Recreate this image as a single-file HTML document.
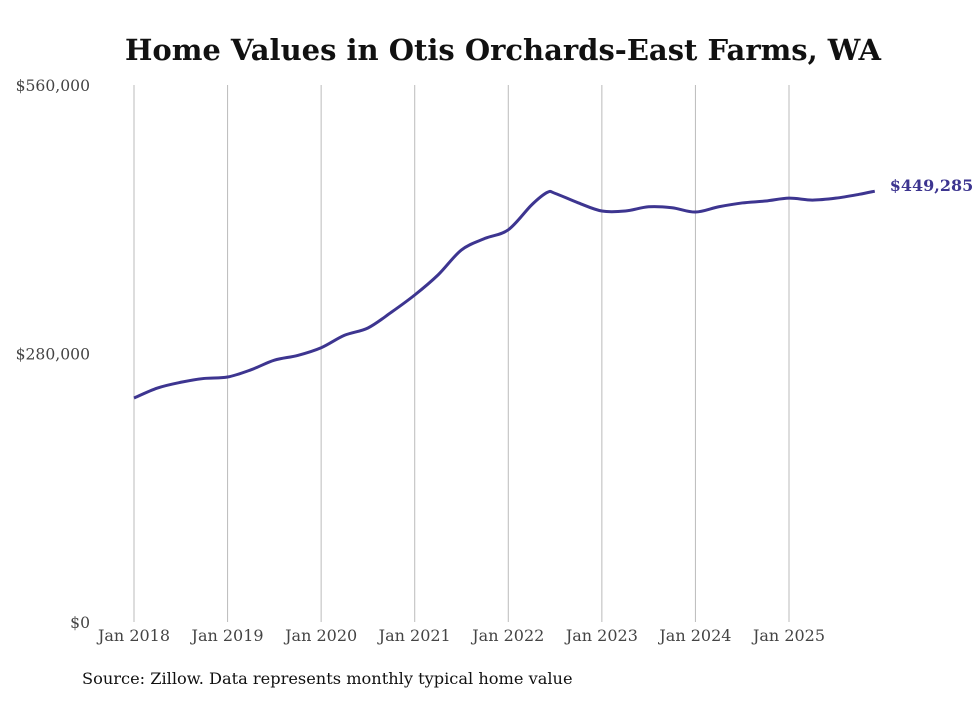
<!DOCTYPE html>
<html><head><meta charset="utf-8"><style>
body{margin:0;background:#fff;width:980px;height:699px;overflow:hidden;font-family:"DejaVu Serif","Liberation Serif",serif;}
</style></head><body>
<svg width="980" height="699" font-family="DejaVu Serif, Liberation Serif, serif" xmlns="http://www.w3.org/2000/svg">
<text x="503" y="60" text-anchor="middle" font-size="29" font-weight="bold" fill="#111">Home Values in Otis Orchards-East Farms, WA</text>
<g id="grid"></g>
<g id="yax"></g>
<g id="xax"></g>
<path id="line" fill="none" stroke="#3d3590" stroke-width="3"/>
<text id="endlabel" font-size="16" font-weight="bold" fill="#3d3590"></text>
<text x="82" y="684" font-size="16.2" fill="#111">Source: Zillow. Data represents monthly typical home value</text>
</svg>
<script>
const months=[0,3,6,9,12,15,18,21,24,27,30,33,36,39,42,45,48,51,53,54,57,60,63,66,69,72,75,78,81,84,87,90,93,95];
const values=[233600,244000,250000,254000,255500,263000,273000,278000,286000,299000,306600,323000,341000,362000,388000,400000,409000,435000,448000,447000,437000,428600,428600,433000,432000,427500,433000,437000,439000,442000,440000,442000,446000,449285];
const yTicks=[0,280000,560000];
const yTickLabels=["$0","$280,000","$560,000"];
const xTickLabels=["Jan 2018","Jan 2019","Jan 2020","Jan 2021","Jan 2022","Jan 2023","Jan 2024","Jan 2025"];
const lastLabel="$449,285";
const X=m=>134+m*(655/84), Y=v=>622-v*(537/560000);
const ns="http://www.w3.org/2000/svg";
function mk(t,a,p){const e=document.createElementNS(ns,t);for(const k in a)e.setAttribute(k,a[k]);p.appendChild(e);return e;}
const grid=document.getElementById('grid'),xax=document.getElementById('xax'),yax=document.getElementById('yax');
xTickLabels.forEach((l,i)=>{const x=X(i*12);
 const g=mk('line',{x1:x,x2:x,y1:85,y2:622,stroke:'#bbb','stroke-width':1},grid);
 
 
 const t=mk('text',{x:x,y:641,'text-anchor':'middle','font-size':16,fill:'#444'},xax);t.textContent=l;
 
 
});
yTicks.forEach((v,i)=>{const t=mk('text',{x:90,y:Y(v)+6,'text-anchor':'end','font-size':15.6,fill:'#444'},yax);t.textContent=yTickLabels[i];
 
 
});
const P=months.map((m,i)=>[X(m),Y(values[i])]);
let d='M'+P[0][0]+','+P[0][1];
for(let i=0;i<P.length-1;i++){const p0=P[i-1]||P[i],p1=P[i],p2=P[i+1],p3=P[i+2]||p2;
 const c1=[p1[0]+(p2[0]-p0[0])/6,p1[1]+(p2[1]-p0[1])/6],c2=[p2[0]-(p3[0]-p1[0])/6,p2[1]-(p3[1]-p1[1])/6];
 d+=`C${c1[0]},${c1[1]} ${c2[0]},${c2[1]} ${p2[0]},${p2[1]}`;}
document.getElementById('line').setAttribute('d',d);
const el=document.getElementById('endlabel');const L=P[P.length-1];
el.setAttribute('x',L[0]+15);el.setAttribute('y',L[1]);el.textContent=lastLabel;
</script>
</body></html>
